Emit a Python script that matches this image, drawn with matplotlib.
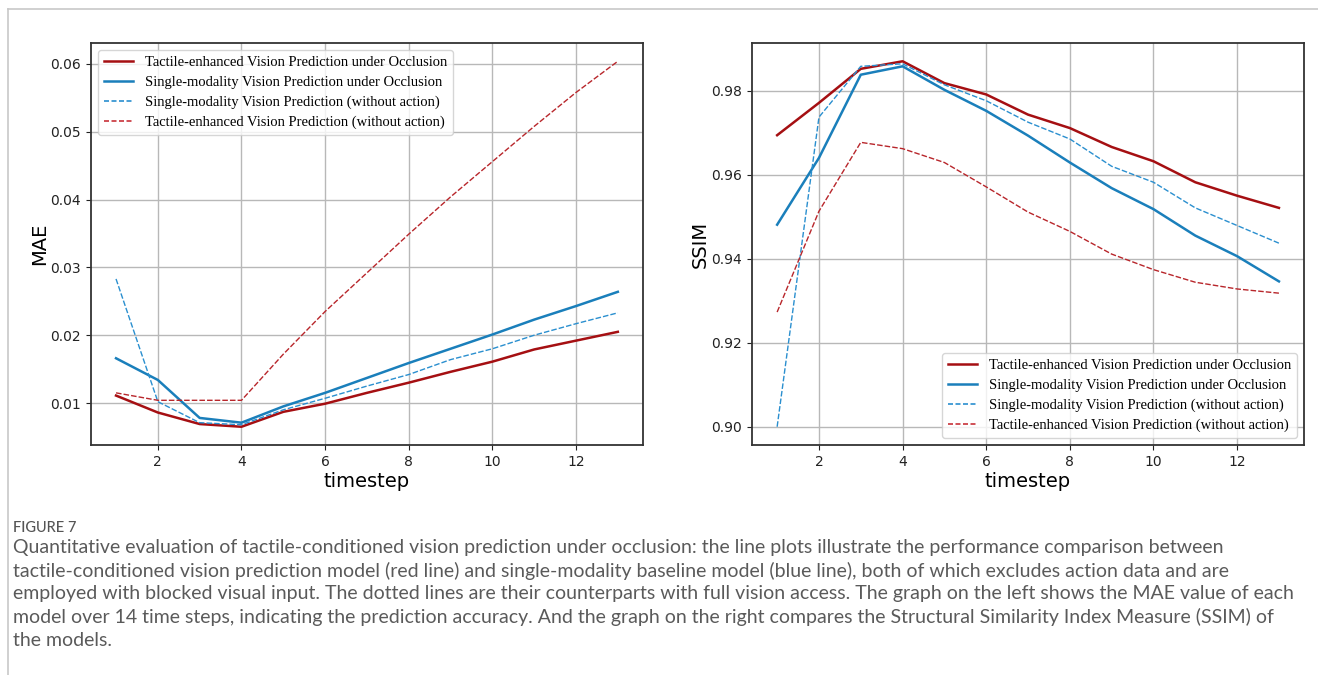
"""
plot.py — MAE / SSIM comparison of vision prediction models (figure 7 recreation).
"""
import matplotlib
matplotlib.use("Agg")
import matplotlib.pyplot as plt
from matplotlib import font_manager
from matplotlib.lines import Line2D

timesteps = list(range(1, 14))

# MAE values per timestep
mae_tactile_occ = [0.0111, 0.0086, 0.0069, 0.0065, 0.0087, 0.0099, 0.0115, 0.0130,
                   0.0146, 0.0161, 0.0179, 0.0192, 0.0205]
mae_single_occ = [0.0166, 0.0134, 0.0078, 0.0071, 0.0095, 0.0115, 0.0137, 0.0159,
                  0.0180, 0.0201, 0.0223, 0.0243, 0.0264]
mae_single_noact = [0.0283, 0.0102, 0.0071, 0.0068, 0.0090, 0.0107, 0.0125, 0.0142,
                    0.0164, 0.0180, 0.0200, 0.0217, 0.0233]
mae_tactile_noact = [0.0115, 0.0104, 0.0104, 0.0104, 0.0172, 0.0235, 0.0292, 0.0349,
                     0.0404, 0.0456, 0.0508, 0.0558, 0.0604]

# SSIM values per timestep
ssim_tactile_occ = [0.9694, 0.9771, 0.9852, 0.9870, 0.9818, 0.9791, 0.9743, 0.9711,
                    0.9666, 0.9632, 0.9582, 0.9550, 0.9521]
ssim_single_occ = [0.9481, 0.9640, 0.9838, 0.9858, 0.9802, 0.9752, 0.9693, 0.9629,
                   0.9568, 0.9518, 0.9455, 0.9406, 0.9346]
ssim_single_noact = [0.9000, 0.9737, 0.9858, 0.9864, 0.9814, 0.9776, 0.9725, 0.9685,
                     0.9620, 0.9582, 0.9521, 0.9479, 0.9437]
ssim_tactile_noact = [0.9273, 0.9513, 0.9677, 0.9662, 0.9629, 0.9571, 0.9511, 0.9465,
                      0.9411, 0.9374, 0.9344, 0.9328, 0.9318]

labels = [
    "Tactile-enhanced Vision Prediction under Occlusion",
    "Single-modality Vision Prediction under Occlusion",
    "Single-modality Vision Prediction (without action)",
    "Tactile-enhanced Vision Prediction (without action)",
]

caption_title = "FIGURE 7"
caption_lines = [
    "Quantitative evaluation of tactile-conditioned vision prediction under occlusion: the line plots illustrate the performance comparison between",
    "tactile-conditioned vision prediction model (red line) and single-modality baseline model (blue line), both of which excludes action data and are",
    "employed with blocked visual input. The dotted lines are their counterparts with full vision access. The graph on the left shows the MAE value of each",
    "model over 14 time steps, indicating the prediction accuracy. And the graph on the right compares the Structural Similarity Index Measure (SSIM) of",
    "the models.",
]

RED = "#a50f12"
BLUE = "#1a7fbb"
BLUE_DASH = "#2a8fcf"
RED_DASH = "#b8262b"


def _pick_caption_font():
    for name in ("Liberation Sans Narrow", "Lato"):
        try:
            font_manager.findfont(name, fallback_to_default=False)
            return name
        except Exception:
            continue
    return "DejaVu Sans"


def _draw_panel(ax, series, ylabel, yticks, legend_loc):
    styles = [
        dict(color=RED, lw=1.8, ls="-"),
        dict(color=BLUE, lw=1.8, ls="-"),
        dict(color=BLUE_DASH, lw=1.0, ls="--", dashes=(4, 1.5)),
        dict(color=RED_DASH, lw=1.0, ls="--", dashes=(4, 1.5)),
    ]
    for ys, st, lab in zip(series, styles, labels):
        ax.plot(timesteps, ys, label=lab, **st)

    ax.set_xticks([2, 4, 6, 8, 10, 12])
    ax.set_yticks(yticks)
    ax.yaxis.set_major_formatter(matplotlib.ticker.FormatStrFormatter("%.2f"))
    ax.grid(True, color="#b8b8b8", lw=1.0)
    ax.set_axisbelow(True)
    ax.tick_params(labelsize=10, colors="#222222")
    for sp in ax.spines.values():
        sp.set_color("#333333")
        sp.set_linewidth(1.3)
    ax.set_xlabel("timestep", fontsize=14, labelpad=2)
    ax.set_ylabel(ylabel, fontsize=14, labelpad=1)

    handles = [
        Line2D([], [], color=RED, lw=1.8),
        Line2D([], [], color=BLUE, lw=1.8),
        Line2D([], [], color=BLUE_DASH, lw=1.2, ls="--", dashes=(3, 1.5)),
        Line2D([], [], color="#c8323a", lw=1.2, ls="--", dashes=(3, 1.5)),
    ]
    ax.legend(handles, labels, loc=legend_loc,
              prop={"family": "Liberation Serif", "size": 10.5},
              framealpha=0.8, edgecolor="#cccccc", borderpad=0.4,
              labelspacing=0.45, handlelength=2.0)


fig = plt.figure(figsize=(13.18, 6.75), dpi=100, facecolor="white")

ax1 = fig.add_axes([0.069, 0.3407, 0.4188, 0.5956])
_draw_panel(ax1,
            [mae_tactile_occ, mae_single_occ, mae_single_noact, mae_tactile_noact],
            "MAE", [0.01, 0.02, 0.03, 0.04, 0.05, 0.06], "upper left")

ax2 = fig.add_axes([0.5706, 0.3407, 0.4188, 0.5956])
_draw_panel(ax2,
            [ssim_tactile_occ, ssim_single_occ, ssim_single_noact, ssim_tactile_noact],
            "SSIM", [0.90, 0.92, 0.94, 0.96, 0.98], "lower right")

# card border (top and left)
fig.add_artist(Line2D([8 / 1318, 1.0], [1 - 9 / 675, 1 - 9 / 675],
                      transform=fig.transFigure, color="#c8c8c8", lw=1.2))
fig.add_artist(Line2D([8 / 1318, 8 / 1318], [0.0, 1 - 9 / 675],
                      transform=fig.transFigure, color="#c8c8c8", lw=1.2))

cap_font = _pick_caption_font()
fig.text(13 / 1318, 1 - 528 / 675, caption_title, family=cap_font, fontsize=10.5,
         color="#555555", va="center", ha="left", weight="medium")
for i, line in enumerate(caption_lines):
    y = 548 + i * 23
    fig.text(13 / 1318, 1 - y / 675, line, family=cap_font, fontsize=14,
             color="#5a5a5a", va="center", ha="left")

fig.savefig("out.png", dpi=100, facecolor=fig.get_facecolor())
plt.close(fig)
